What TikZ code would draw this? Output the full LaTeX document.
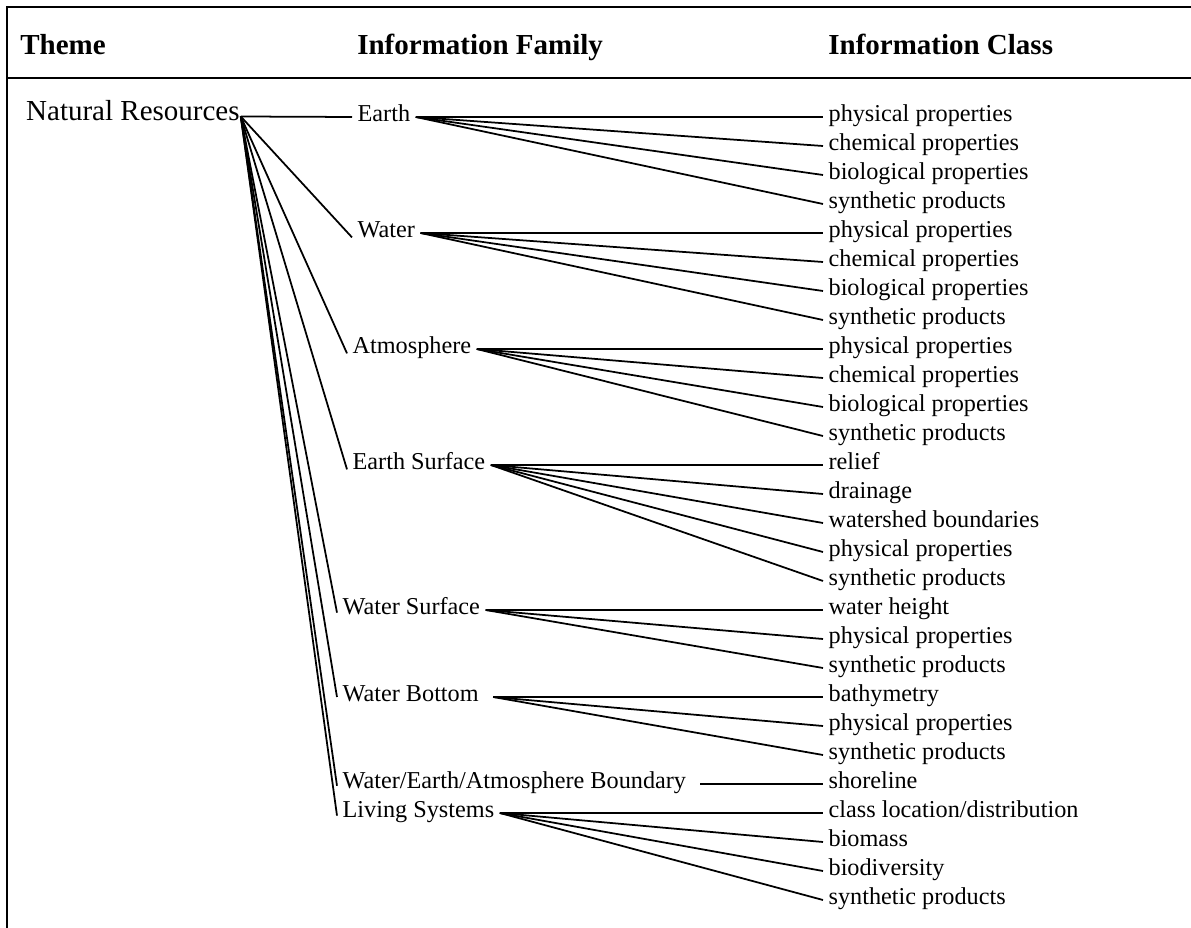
\documentclass[tikz,border=0pt]{standalone}
\usepackage{fontspec}
\setmainfont{Liberation Serif}

\tikzset{
  frame/.style={line width=1.3pt},
  link/.style={line width=1pt},
  headtext/.style={anchor=west, inner sep=0pt, font=\fontsize{16.5}{19}\selectfont\bfseries,
    text height=0.7em, text depth=0.2em},
  themetext/.style={anchor=west, inner xsep=0.5pt, inner ysep=0pt, font=\fontsize{16.5}{19}\selectfont,
    text height=0.7em, text depth=0.2em},
  famtext/.style={anchor=west, inner xsep=3pt, inner ysep=0pt, font=\fontsize{13.8}{16}\selectfont,
    text height=0.7em, text depth=0.2em},
  clstext/.style={anchor=west, inner xsep=3pt, inner ysep=0pt, font=\fontsize{13.8}{16}\selectfont,
    text height=0.7em, text depth=0.2em}
}

\begin{document}
\begin{tikzpicture}[x=0.02cm,y=-0.02cm]
  \useasboundingbox (0,0) rectangle (1191,928);

  % table frame
  \draw[frame] (1191,7) -- (7,7) -- (7,928);
  \draw[frame] (7,78) -- (1191,78);

  % column heads
  \node[headtext] (colTheme) at (20,50) {Theme};
  \node[headtext] (colFamily) at (357,50) {Information Family};
  \node[headtext] (colClass) at (828,50) {Information Class};

  \node[themetext] (natres) at (25,116.5) {Natural Resources};

  % information families
  \draw
    (352,117) node[famtext] (earth){Earth}
    (352,233) node[famtext] (water){Water}
    (347,349) node[famtext] (atmos){Atmosphere}
    (347,465) node[famtext] (surf){Earth Surface}
    (337,610) node[famtext] (wsurf){Water Surface}
    (337,697) node[famtext] (wbot){Water Bottom}
    (337,784) node[famtext] (bound){Water/Earth/Atmosphere Boundary}
    (337,813) node[famtext] (living){Living Systems};

  % information classes
  \draw
    (823,117) node[clstext] (c1){physical properties}
    (823,146) node[clstext] (c2){chemical properties}
    (823,175) node[clstext] (c3){biological properties}
    (823,204) node[clstext] (c4){synthetic products}
    (823,233) node[clstext] (c5){physical properties}
    (823,262) node[clstext] (c6){chemical properties}
    (823,291) node[clstext] (c7){biological properties}
    (823,320) node[clstext] (c8){synthetic products}
    (823,349) node[clstext] (c9){physical properties}
    (823,378) node[clstext] (c10){chemical properties}
    (823,407) node[clstext] (c11){biological properties}
    (823,436) node[clstext] (c12){synthetic products}
    (823,465) node[clstext] (c13){relief}
    (823,494) node[clstext] (c14){drainage}
    (823,523) node[clstext] (c15){watershed boundaries}
    (823,552) node[clstext] (c16){physical properties}
    (823,581) node[clstext] (c17){synthetic products}
    (823,610) node[clstext] (c18){water height}
    (823,639) node[clstext] (c19){physical properties}
    (823,668) node[clstext] (c20){synthetic products}
    (823,697) node[clstext] (c21){bathymetry}
    (823,726) node[clstext] (c22){physical properties}
    (823,755) node[clstext] (c23){synthetic products}
    (823,784) node[clstext] (c24){shoreline}
    (823,813) node[clstext] (c25){class location/distribution}
    (823,842) node[clstext] (c26){biomass}
    (823,871) node[clstext] (c27){biodiversity}
    (823,900) node[clstext] (c28){synthetic products};

  \begin{scope}[link]
    \draw (natres.east) to (earth.west);
    \draw (natres.east) to (water.base west);
    \draw (natres.east) to (atmos.base west);
    \draw (natres.east) to (surf.base west);
    \draw (natres.east) to ([yshift=-1.5pt]wsurf.west);
    \draw (natres.east) to (wbot.west);
    \draw (natres.east) to ([yshift=-1pt]bound.west);
    \draw (natres.east) to ([yshift=-1.5pt]living.west);

    \draw (earth.east) to (c1.west);
    \draw (earth.east) to (c2.west);
    \draw (earth.east) to (c3.west);
    \draw (earth.east) to (c4.west);
    \draw (water.east) to (c5.west);
    \draw (water.east) to (c6.west);
    \draw (water.east) to (c7.west);
    \draw (water.east) to (c8.west);
    \draw (atmos.east) to (c9.west);
    \draw (atmos.east) to (c10.west);
    \draw (atmos.east) to (c11.west);
    \draw (atmos.east) to (c12.west);
    \draw (surf.east) to (c13.west);
    \draw (surf.east) to (c14.west);
    \draw (surf.east) to (c15.west);
    \draw (surf.east) to (c16.west);
    \draw (surf.east) to (c17.west);
    \draw (wsurf.east) to (c18.west);
    \draw (wsurf.east) to (c19.west);
    \draw (wsurf.east) to (c20.west);
    \draw ([xshift=5pt]wbot.east) to (c21.west);
    \draw ([xshift=5pt]wbot.east) to (c22.west);
    \draw ([xshift=5pt]wbot.east) to (c23.west);
    \draw ([xshift=5pt]bound.east) to (c24.west);
    \draw (living.east) to (c25.west);
    \draw (living.east) to (c26.west);
    \draw (living.east) to (c27.west);
    \draw (living.east) to (c28.west);
  \end{scope}
\end{tikzpicture}
\end{document}
